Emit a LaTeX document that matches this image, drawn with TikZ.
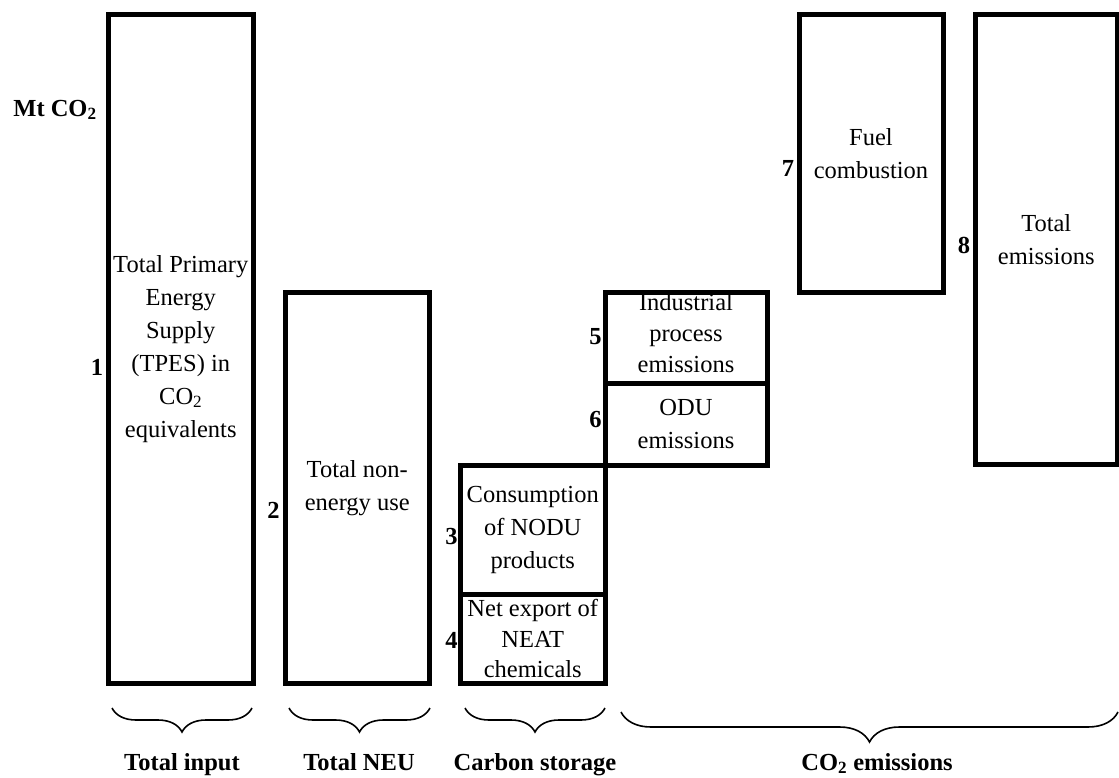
\documentclass[tikz,border=0pt]{standalone}
\usepackage{fontspec}
\setmainfont{Liberation Serif}
\usetikzlibrary{decorations.pathreplacing}
% centred lines that report no size, so the frame keeps its given height
\newcommand\flatlines[2]{\raisebox{#1}[0pt][0pt]{\begin{tabular}{@{}c@{}}#2\end{tabular}}}
\begin{document}
\begin{tikzpicture}[x=1pt,y=-1pt,
  every node/.style={inner sep=0pt, outer sep=0pt},
  box/.style={draw, line width=5pt, align=center,
    font=\fontsize{24.5}{33}\selectfont},
  num/.style={anchor=east, font=\fontsize{24.5}{29}\selectfont\bfseries},
  grp/.style={anchor=base, font=\fontsize{24.5}{29}\selectfont\bfseries},
  curly/.style={decorate, line width=1.6pt,
    decoration={brace, mirror, amplitude=#1}},
]
\useasboundingbox (0,0) rectangle (1119,778);

% unit label
\node[font=\fontsize{24.5}{29}\selectfont\bfseries] (unit) at (55,110) {Mt CO\textsubscript{2}};

% bars
\node[box, minimum width=144.5pt, minimum height=668.5pt] (b1) at (180.75,348.75)
  {Total Primary\\Energy\\Supply\\(TPES) in\\CO\textsubscript{2}\\equivalents};
\node[box, minimum width=144.5pt, minimum height=390.5pt] (b2) at (357.25,487.75)
  {Total non-\\energy use};
\node[box, minimum width=144.5pt, minimum height=129.5pt] (b3) at (532.75,529.75)
  {Consumption\\of NODU\\products};
\node[box, minimum width=144.5pt, minimum height=88.5pt,
      font=\fontsize{24.5}{30.5}\selectfont] (b4) at (532.75,638.75)
  {Net export of\\NEAT\\chemicals};
\node[box, minimum width=162pt, minimum height=90.5pt,
      font=\fontsize{24.5}{31}\selectfont] (b5) at (686,337.75)
  {\flatlines{-3.5pt}{Industrial\\process\\emissions}};
\node[box, minimum width=162pt, minimum height=82pt] (b6) at (686,424)
  {ODU\\emissions};
\node[box, minimum width=144pt, minimum height=277.5pt] (b7) at (871,153.25)
  {Fuel\\combustion};
\node[box, minimum width=141.5pt, minimum height=449.5pt] (b8) at (1046.25,239.25)
  {Total\\emissions};

% bar numbers
\node[num] (n1) at (103,367) {1};
\node[num] (n2) at (279.5,510) {2};
\node[num] (n3) at (457.5,537) {3};
\node[num] (n4) at (457.5,640) {4};
\node[num] (n5) at (601.5,337) {5};
\node[num] (n6) at (601.5,420) {6};
\node[num] (n7) at (794,168) {7};
\node[num] (n8) at (970,245) {8};

% group braces
\coordinate (g1a) at (112,708);  \coordinate (g1b) at (252,708);
\coordinate (g2a) at (289,708);  \coordinate (g2b) at (430,708);
\coordinate (g3a) at (465,708);  \coordinate (g3b) at (605,708);
\coordinate (g4a) at (621,712);  \coordinate (g4b) at (1118,712);
\draw[curly=24pt] (g1a) -- (g1b);
\draw[curly=24pt] (g2a) -- (g2b);
\draw[curly=24pt] (g3a) -- (g3b);
\draw[curly=30pt] (g4a) -- (g4b);

% group labels
\node[grp] (t1) at (182,770) {Total input};
\node[grp] (t2) at (359,770) {Total NEU};
\node[grp] (t3) at (535,770) {Carbon storage};
\node[grp] (t4) at (877,770) {CO\textsubscript{2} emissions};
\end{tikzpicture}
\end{document}
